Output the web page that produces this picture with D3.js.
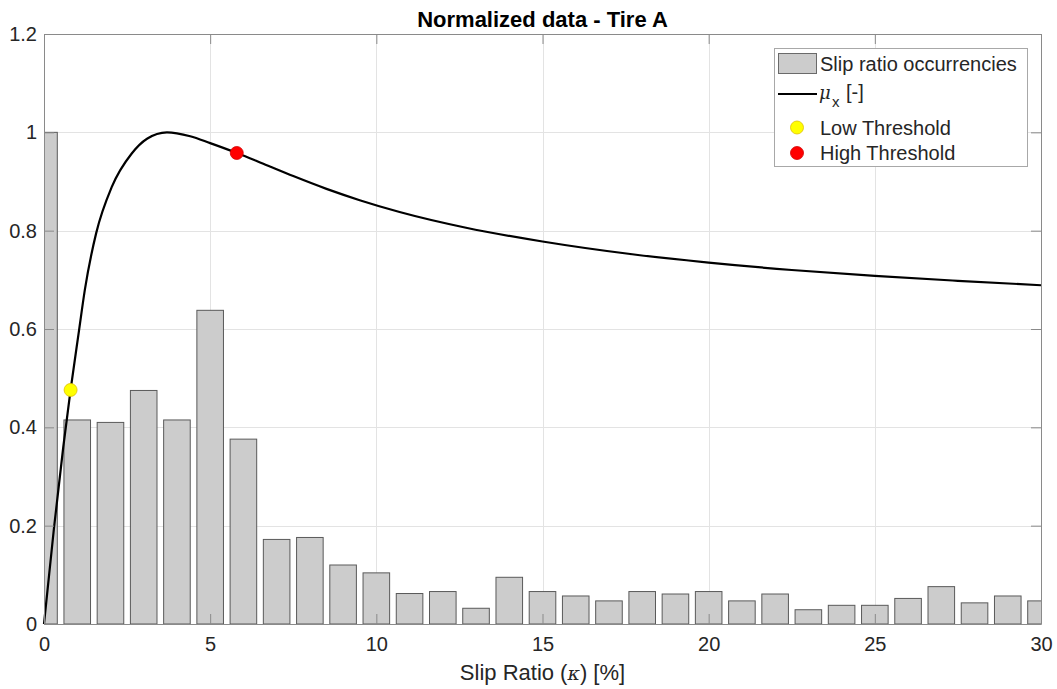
<!DOCTYPE html>
<html>
<head>
<meta charset="utf-8">
<script src="https://cdn.jsdelivr.net/npm/d3@7"></script>
<style>
  body { margin: 0; background: #fff; }
  text { font-family: "Liberation Sans", Arial, Helvetica, sans-serif; fill: #262626; }
</style>
</head>
<body>
<svg id="chart" width="1057" height="689"></svg>
<script>
// Histogram bins of slip ratio (bin centres, %) and normalized occurrence counts
const slipBins = [0, 1, 2, 3, 4, 5, 6, 7, 8, 9, 10, 11, 12, 13, 14, 15, 16, 17, 18, 19, 20, 21, 22, 23, 24, 25, 26, 27, 28, 29, 30];
const occurrences = [1.0, 0.415, 0.41, 0.475, 0.415, 0.638, 0.376, 0.172, 0.176, 0.12, 0.104, 0.062, 0.066, 0.032, 0.095, 0.066, 0.057, 0.047, 0.066, 0.061, 0.066, 0.047, 0.061, 0.029, 0.038, 0.038, 0.052, 0.076, 0.043, 0.057, 0.047];

// Normalized longitudinal friction coefficient curve
const muSlip  = [0, 0.3, 0.58, 0.8, 1.05, 1.23, 1.57, 2.04, 2.64, 3.1, 3.7, 4.4, 5.0, 5.8, 6.6, 7.5, 8.5, 9.5, 10.7, 12.7, 15, 17.7, 20, 22.5, 25, 27.5, 30];
const muValue = [0, 0.195, 0.36, 0.476, 0.595, 0.68, 0.795, 0.889, 0.957, 0.987, 1.0, 0.992, 0.978, 0.958, 0.936, 0.911, 0.885, 0.862, 0.838, 0.806, 0.778, 0.752, 0.735, 0.720, 0.708, 0.698, 0.689];

// Threshold points on the friction curve
const thresholdNames = ["Low Threshold", "High Threshold"];
const thresholdSlip  = [0.8, 5.8];
const thresholdMu    = [0.476, 0.958];
const thresholdColor = ["#ffff00", "#ff0000"];

const xTicks = [0, 5, 10, 15, 20, 25, 30];
const yTicks = [0, 0.2, 0.4, 0.6, 0.8, 1.0, 1.2];

const svg = d3.select("#chart");
const plot = { left: 44, right: 1041, top: 34, bottom: 624 };
const x = d3.scaleLinear().domain([0, 30]).range([plot.left, plot.right]);
const y = d3.scaleLinear().domain([0, 1.2]).range([plot.bottom, plot.top]);
const barWidth = 0.8;

svg.append("defs").append("clipPath").attr("id", "plotClip")
  .append("rect")
  .attr("x", plot.left).attr("y", plot.top)
  .attr("width", plot.right - plot.left).attr("height", plot.bottom - plot.top);

// Grid
const grid = svg.append("g").attr("stroke", "#e3e3e3").attr("stroke-width", 1);
grid.selectAll("line.gx").data(xTicks.slice(1, -1)).join("line")
  .attr("x1", d => Math.round(x(d)) + 0.5).attr("x2", d => Math.round(x(d)) + 0.5)
  .attr("y1", plot.top).attr("y2", plot.bottom);
grid.selectAll("line.gy").data(yTicks.slice(1, -1)).join("line")
  .attr("y1", d => Math.round(y(d)) + 0.5).attr("y2", d => Math.round(y(d)) + 0.5)
  .attr("x1", plot.left).attr("x2", plot.right);

// Bars
const data = slipBins.map((s, i) => ({ s, v: occurrences[i] }));
svg.append("g").attr("clip-path", "url(#plotClip)")
  .selectAll("rect").data(data).join("rect")
  .attr("x", d => x(d.s - barWidth / 2))
  .attr("width", d => x(d.s + barWidth / 2) - x(d.s - barWidth / 2))
  .attr("y", d => y(d.v))
  .attr("height", d => y(0) - y(d.v))
  .attr("fill", "#cccccc")
  .attr("stroke", "#5a5a5a")
  .attr("stroke-width", 1);

// Friction curve
const curve = muSlip.map((s, i) => [s, muValue[i]]);
svg.append("path")
  .datum(curve)
  .attr("fill", "none")
  .attr("stroke", "#000")
  .attr("stroke-width", 2.2)
  .attr("stroke-linejoin", "round")
  .attr("d", d3.line().x(d => x(d[0])).y(d => y(d[1])).curve(d3.curveMonotoneX));

// Threshold markers
svg.append("g").selectAll("circle").data(thresholdNames).join("circle")
  .attr("cx", (d, i) => x(thresholdSlip[i]))
  .attr("cy", (d, i) => y(thresholdMu[i]))
  .attr("r", 6.5)
  .attr("fill", (d, i) => thresholdColor[i])
  .attr("stroke", (d, i) => i === 0 ? "#e0c000" : "#d00000")
  .attr("stroke-width", 0.8);

// Axes frame and ticks (inward, on all four sides)
const axisColor = "#8a8a8a";
const tickLen = 10;
const fontSize = 20;

const xAxis = svg.append("g").attr("transform", `translate(0,${plot.bottom})`)
  .call(d3.axisBottom(x).tickValues(xTicks).tickSizeInner(-tickLen).tickSizeOuter(0).tickPadding(13).tickFormat(d3.format("d")));
const xAxisTop = svg.append("g").attr("transform", `translate(0,${plot.top})`)
  .call(d3.axisTop(x).tickValues(xTicks).tickSizeInner(-tickLen).tickSizeOuter(0).tickFormat(""));
const yAxis = svg.append("g").attr("transform", `translate(${plot.left},0)`)
  .call(d3.axisLeft(y).tickValues(yTicks).tickSizeInner(-tickLen).tickSizeOuter(0).tickPadding(7)
    .tickFormat(d => d === 0 || d === 1 ? d3.format("d")(d) : d3.format(".1f")(d)));
const yAxisRight = svg.append("g").attr("transform", `translate(${plot.right},0)`)
  .call(d3.axisRight(y).tickValues(yTicks).tickSizeInner(-tickLen).tickSizeOuter(0).tickFormat(""));

[xAxis, xAxisTop, yAxis, yAxisRight].forEach(g => {
  g.select(".domain").attr("stroke", axisColor);
  g.selectAll(".tick line").attr("stroke", axisColor);
  g.selectAll(".tick text").attr("fill", "#262626")
    .style("font-family", '"Liberation Sans", Arial, sans-serif')
    .style("font-size", fontSize + "px");
});

// Title
svg.append("text")
  .attr("x", (plot.left + plot.right) / 2).attr("y", 27)
  .attr("text-anchor", "middle")
  .style("font-size", "22px").style("font-weight", "bold").style("fill", "#000")
  .text("Normalized data - Tire A");

// X axis label
const xl = svg.append("text")
  .attr("x", (plot.left + plot.right) / 2).attr("y", 680)
  .attr("text-anchor", "middle")
  .style("font-size", "22px");
xl.append("tspan").text("Slip Ratio (");
xl.append("tspan").style("font-family", '"DejaVu Serif", "Liberation Serif", serif').style("font-style", "italic").style("font-size", "19px").text("κ");
xl.append("tspan").text(") [%]");

// Legend
const lg = svg.append("g");
lg.append("rect")
  .attr("x", 774.5).attr("y", 48.5).attr("width", 253).attr("height", 118)
  .attr("fill", "#fff").attr("stroke", "#a8a8a8").attr("stroke-width", 1);

lg.append("rect")
  .attr("x", 778.5).attr("y", 53.5).attr("width", 38).attr("height", 20)
  .attr("fill", "#cccccc").attr("stroke", "#6a6a6a");
lg.append("text").attr("x", 820).attr("y", 71).style("font-size", fontSize + "px").text("Slip ratio occurrencies");

lg.append("line").attr("x1", 778).attr("x2", 817).attr("y1", 94).attr("y2", 94)
  .attr("stroke", "#000").attr("stroke-width", 2.2);
const mu = lg.append("text").attr("y", 99).style("font-size", fontSize + "px");
mu.append("tspan").attr("x", 819)
  .style("font-family", '"DejaVu Serif", "Liberation Serif", serif').style("font-style", "italic").style("font-size", "18px")
  .text("μ");
mu.append("tspan").attr("x", 832).attr("dy", 8).style("font-size", "15px").text("x");
mu.append("tspan").attr("x", 846).attr("dy", -8).text("[-]");

thresholdNames.forEach((name, i) => {
  const cy = [127.5, 153][i];
  lg.append("circle").attr("cx", 797).attr("cy", cy).attr("r", 6.5)
    .attr("fill", thresholdColor[i])
    .attr("stroke", i === 0 ? "#e0c000" : "#d00000").attr("stroke-width", 0.8);
  lg.append("text").attr("x", 820).attr("y", cy + 7).style("font-size", fontSize + "px").text(name);
});
</script>
</body>
</html>
